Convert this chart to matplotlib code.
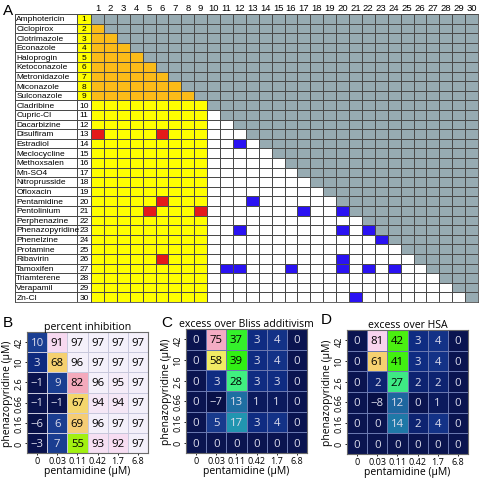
import matplotlib
matplotlib.use('Agg')
import matplotlib.pyplot as plt
import numpy as np
from matplotlib.colors import ListedColormap, LinearSegmentedColormap, Normalize

# ---------------- data ----------------
drugs = ["Amphotericin", "Ciclopirox", "Clotrimazole", "Econazole", "Haloprogin",
         "Ketoconazole", "Metronidazole", "Miconazole", "Sulconazole", "Cladribine",
         "Cupric-Cl", "Dacarbizine", "Disulfiram", "Estradiol", "Meclocycline",
         "Methoxsalen", "Mn-SO4", "Nitroprusside", "Ofloxacin", "Pentamidine",
         "Pentolinium", "Perphenazine", "Phenazopyridine", "Phenelzine", "Protamine",
         "Ribavirin", "Tamoxifen", "Triamterene", "Verapamil", "Zn-Cl"]
n_antifungal = 9
red_pairs = [(13, 1), (13, 6), (20, 6), (21, 5), (21, 9), (26, 6)]
blue_pairs = [(14, 12), (20, 13), (21, 17), (21, 20), (23, 12), (23, 20), (23, 22),
              (24, 23), (26, 20), (27, 11), (27, 12), (27, 16), (27, 20), (27, 22),
              (27, 24), (30, 21)]

pent_doses = ["0", "0.03", "0.11", "0.42", "1.7", "6.8"]
phen_doses = ["42", "10", "2.6", "0.66", "0.16", "0"]   # top to bottom

percent_inhibition = [[10, 91, 97, 97, 97, 97],
                      [3, 68, 96, 97, 97, 97],
                      [-1, 9, 82, 96, 95, 97],
                      [-1, -1, 67, 94, 94, 97],
                      [-6, 6, 69, 96, 97, 97],
                      [-3, 7, 55, 93, 92, 97]]
excess_bliss = [[0, 75, 37, 3, 4, 0],
                [0, 58, 39, 3, 4, 0],
                [0, 3, 28, 3, 3, 0],
                [0, -7, 13, 1, 1, 0],
                [0, 5, 17, 3, 4, 0],
                [0, 0, 0, 0, 0, 0]]
excess_hsa = [[0, 81, 42, 3, 4, 0],
              [0, 61, 41, 3, 4, 0],
              [0, 2, 27, 2, 2, 0],
              [0, -8, 12, 0, 1, 0],
              [0, 0, 14, 2, 4, 0],
              [0, 0, 0, 0, 0, 0]]

# ---------------- figure ----------------
W, H = 480, 481
fig = plt.figure(figsize=(W / 100, H / 100), dpi=100)


def fax(x0, y0, x1, y1):
    return fig.add_axes([x0 / W, 1 - y1 / H, (x1 - x0) / W, (y1 - y0) / H])


fontA = 'Liberation Sans'
fontB = 'Open Sans'

# ---------------- Panel A ----------------
n = len(drugs)
M = np.zeros((n, n), dtype=int)
for i in range(1, n + 1):
    for j in range(1, n + 1):
        if j >= i:
            M[i - 1, j - 1] = 0
        elif i <= n_antifungal:
            M[i - 1, j - 1] = 1
        elif j <= n_antifungal:
            M[i - 1, j - 1] = 2
        else:
            M[i - 1, j - 1] = 3
for (i, j) in red_pairs:
    M[i - 1, j - 1] = 4
for (i, j) in blue_pairs:
    M[i - 1, j - 1] = 5

cmapA = ListedColormap(['#97abb2', '#fbbb18', '#ffff00', '#ffffff', '#e41a1a', '#2a12f2'])
axA = fax(91, 15, 478, 303)
axA.pcolormesh(np.arange(0.5, n + 1), np.arange(0.5, n + 1), M, cmap=cmapA,
               vmin=-0.5, vmax=5.5, edgecolors='#4a4a4a', linewidth=0.5)
axA.set_xlim(0.5, n + 0.5)
axA.set_ylim(n + 0.5, 0.5)
axA.xaxis.tick_top()
axA.set_xticks(range(1, n + 1))
axA.set_xticklabels([str(k) for k in range(1, n + 1)], fontsize=6.8, family=fontA)
axA.tick_params(axis='x', length=0, pad=1.5)
axA.set_yticks([])
for s in axA.spines.values():
    s.set_linewidth(0.6)
    s.set_color('#4a4a4a')

axL = fax(15, 15, 91, 303)
L = np.zeros((n, 2), dtype=int)
L[:n_antifungal, 1] = 1
axL.pcolormesh([0, 62.3, 76], np.arange(0.5, n + 1), L,
               cmap=ListedColormap(['#ffffff', '#ffff00']), vmin=-0.5, vmax=1.5,
               edgecolors='#4a4a4a', linewidth=0.5)
for k, name in enumerate(drugs):
    axL.text(1.3, k + 1, name, fontsize=6.0, family=fontA, va='center', ha='left')
    axL.text(69.2, k + 1, str(k + 1), fontsize=6.0, family=fontA, va='center', ha='center')
axL.set_xlim(0, 76)
axL.set_ylim(n + 0.5, 0.5)
axL.set_xticks([])
axL.set_yticks([])
for s in axL.spines.values():
    s.set_linewidth(0.6)
    s.set_color('#4a4a4a')

fig.text(3 / W, 1 - 11 / H, 'A', fontsize=11, family=fontA, va='center', ha='left')

# ---------------- Panels B-D ----------------
anchors = [(-10, '#070f45'), (0, '#0a1450'), (3, '#0e2a80'), (6, '#1a3d90'),
           (10, '#1a3e92'), (13.5, '#1e68a0'), (18.5, '#2092b2'), (31, '#40f080'),
           (44, '#30f010'), (55, '#a0f010'), (64, '#f0f060'), (68, '#f5d070'),
           (83, '#f4a8c0'), (90, '#f8d4ee'), (93.5, '#f6e2f4'), (96, '#f4f0fa'),
           (100, '#f4f0fa')]
lo, hi = anchors[0][0], anchors[-1][0]
heat_cmap = LinearSegmentedColormap.from_list(
    'heat', [((v - lo) / (hi - lo), c) for v, c in anchors])


def heat(box, data, scale, title, letter, letter_xy, gridc):
    ax = fax(*box)
    d = np.array(data, dtype=float)
    norm = Normalize(vmin=lo * scale, vmax=hi * scale)
    nr, nc = d.shape
    ax.pcolormesh(np.arange(nc + 1), np.arange(nr + 1), d, cmap=heat_cmap, norm=norm,
                  edgecolors=gridc, linewidth=0.6)
    ax.set_xlim(0, nc)
    ax.set_ylim(nr, 0)
    for i in range(nr):
        for j in range(nc):
            v = d[i, j]
            col = '#dcdcec' if v / scale < 20 else 'black'
            txt = str(int(v)).replace('-', '\u2212')
            ax.text(j + 0.5, i + 0.52, txt, ha='center', va='center', fontsize=8.2,
                    family=fontB, color=col)
    ax.set_xticks(np.arange(nc) + 0.5)
    ax.set_xticklabels(pent_doses, fontsize=6.5, family=fontB)
    ax.set_yticks(np.arange(nr) + 0.5)
    ax.set_yticklabels(phen_doses, fontsize=6.5, family=fontB, rotation=90, va='center')
    ax.tick_params(length=1.5, width=0.6, pad=1)
    ax.set_xlabel('pentamidine (\u00b5M)', fontsize=7.5, family=fontB, labelpad=0)
    ax.set_ylabel('phenazopyridine (\u00b5M)', fontsize=7.5, family=fontB, labelpad=1)
    ax.set_title(title, fontsize=7.6, family=fontB, pad=1.5)
    for s in ax.spines.values():
        s.set_linewidth(0.8)
        s.set_color('#6a6a6a')
    fig.text(letter_xy[0] / W, 1 - letter_xy[1] / H, letter, fontsize=11, family=fontA,
             va='center', ha='left')
    return ax


heat((27, 333, 148, 454), percent_inhibition, 1.0, 'percent inhibition', 'B', (3, 323), '#c8c8dc')
heat((186, 330, 307, 454), excess_bliss, 0.9, 'excess over Bliss additivism', 'C', (161, 323), '#6a78b0')
heat((347, 331, 468, 455), excess_hsa, 0.9, 'excess over HSA', 'D', (321, 320), '#6a78b0')

fig.savefig('out.png', dpi=100)
